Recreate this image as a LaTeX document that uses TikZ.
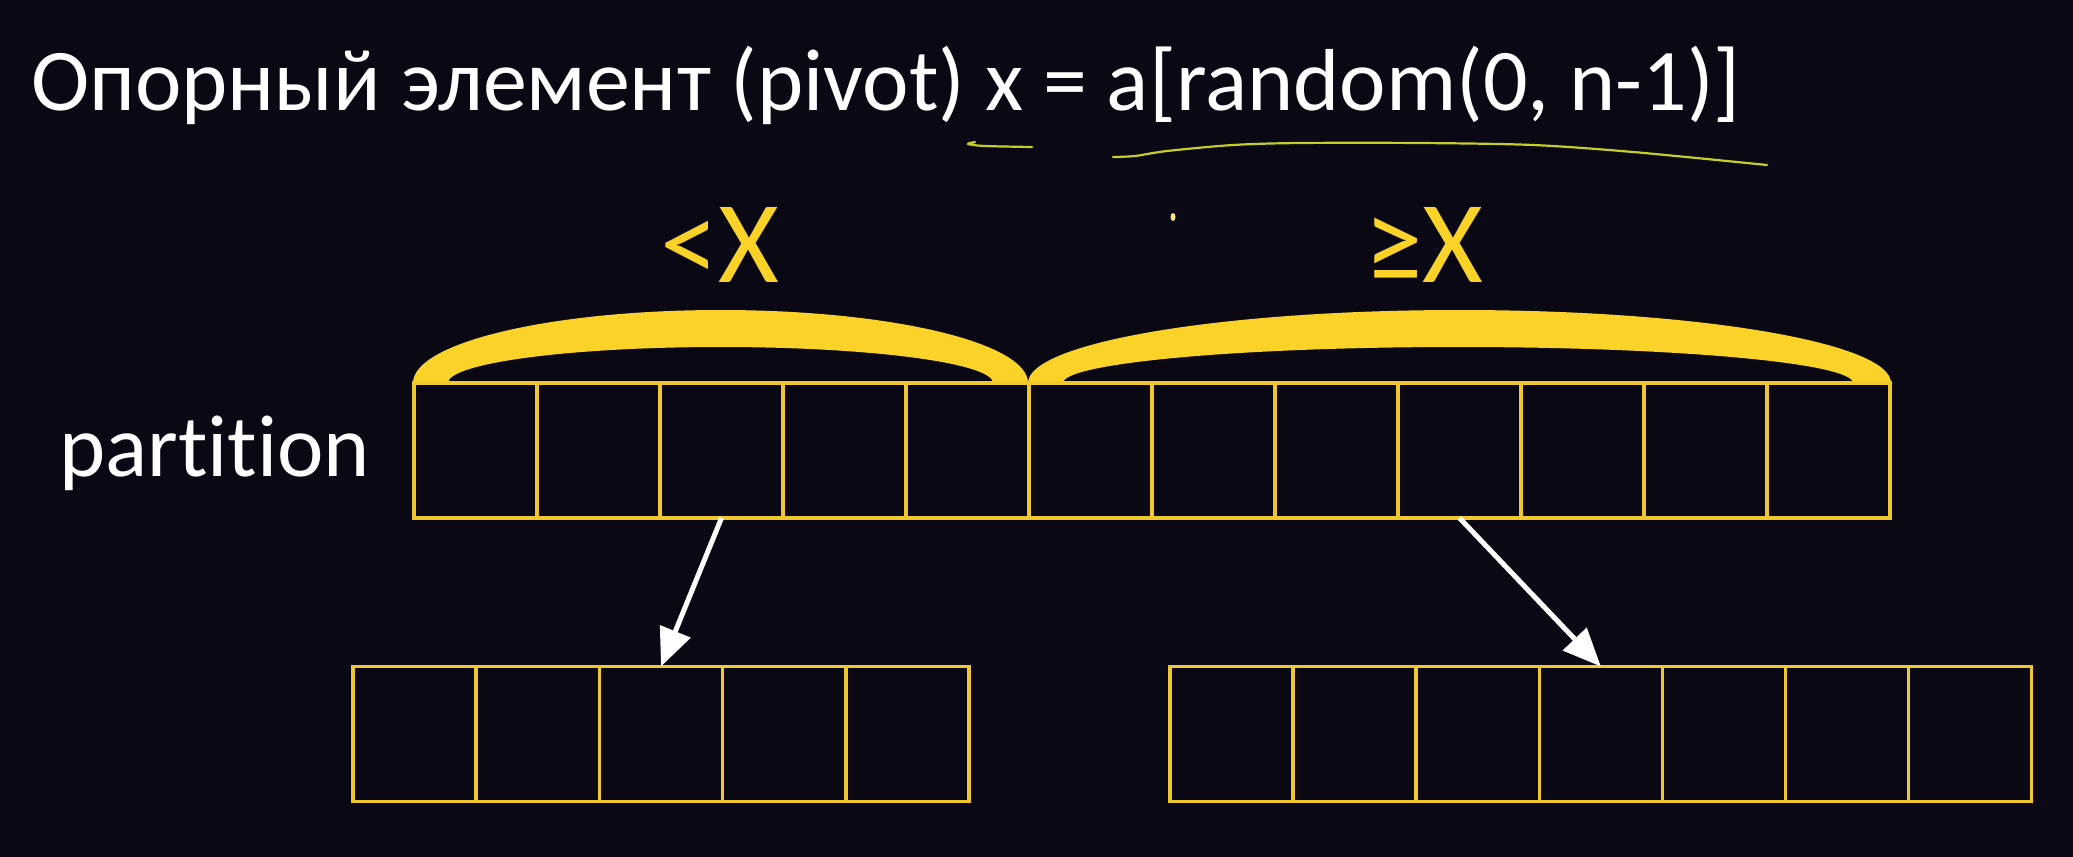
\documentclass[tikz,border=0pt]{standalone}
\usepackage{fontspec}
\setmainfont{Carlito}[Ligatures=NoCommon]
\usetikzlibrary{arrows.meta}
\definecolor{bg}{RGB}{9,8,20}
\definecolor{ylw}{RGB}{250,210,40}
\definecolor{cellc}{RGB}{240,200,45}
\definecolor{pen}{RGB}{200,205,40}
\begin{document}
\begin{tikzpicture}[x=1pt,y=-1pt,
  cellbox/.style={draw=cellc, line width=3.5pt, minimum width=123pt, minimum height=135pt, inner sep=0pt, outer sep=0pt},
  title/.style={text=white, inner sep=0pt, font=\fontsize{88}{100}\selectfont},
  cmp/.style={text=ylw, inner sep=0pt, font=\fontsize{117}{130}\selectfont},
  arr/.style={draw=white, line width=5pt, -{Triangle[length=38pt,width=32pt]}},
  ink/.style={draw=pen, line width=2.2pt, line cap=round, line join=round}]
\fill[bg] (0,0) rectangle (2073,857);
\useasboundingbox (0,0) rectangle (2073,857);
% title
\node[title, anchor=base west] (ttl) at (31,110) {Опорный элемент (pivot) x = a[random(0, n-1)]};
% hand-drawn underlines
\draw[ink] plot[smooth] coordinates {(975,142) (968,144) (985,146) (1032,147)};
\draw[ink] plot[smooth] coordinates {(1113,157) (1135,156) (1167,151) (1233,145) (1300,143) (1420,143) (1533,145) (1633,152) (1767,165)};
\fill[ylw!60!white] (1173,217) ellipse [x radius=2.5pt, y radius=4pt];
% labels
\node[cmp, anchor=base] (lt) at (720,282) {<X};
\node[cmp, anchor=base] (ge) at (1424,282) {≥X};
\node[title, anchor=base west] (part) at (59,476) {partition};
% crescents
\fill[ylw] (413,383) arc[start angle=180, end angle=0, x radius=307.5pt, y radius=73pt]
  -- (993,383) arc[start angle=0, end angle=180, x radius=272.5pt, y radius=36pt] -- cycle;
\fill[ylw] (1028,383) arc[start angle=180, end angle=0, x radius=431.5pt, y radius=73pt]
  -- (1853,383) arc[start angle=0, end angle=180, x radius=395pt, y radius=36pt] -- cycle;
% main array
\foreach \i in {1,...,12} \node[cellbox] (m\i) at ({414+123*(\i-0.5)},450.5) {};
% left array
\foreach \i in {1,...,5} \node[cellbox, minimum width=123.2pt] (l\i) at ({353+123.2*(\i-0.5)},734) {};
% right array
\foreach \i in {1,...,7} \node[cellbox, minimum width=123.1pt] (r\i) at ({1170+123.1*(\i-0.5)},734) {};
% arrows
\draw[arr] (m3.south) -- (l3.north);
\draw[arr] (m9.south) -- (r4.north);
\end{tikzpicture}
\end{document}
